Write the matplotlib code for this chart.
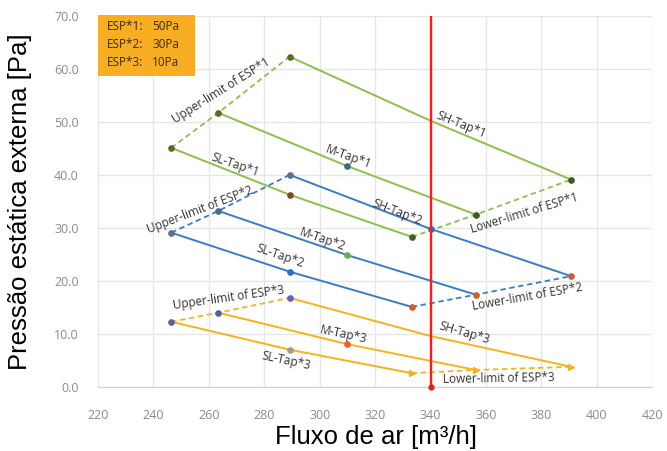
import numpy as np
import matplotlib.pyplot as plt
from matplotlib.patches import Rectangle

# airflow [m3/h] and external static pressure [Pa] per tap, for each ESP setting
sl1_x = [246.4, 289.4, 333.2]
sl1_y = [45.1, 36.2, 28.3]
m1_x = [263.4, 309.7, 356.3]
m1_y = [51.7, 41.7, 32.5]
sh1_x = [289.1, 340.0, 390.7]
sh1_y = [62.3, 50.2, 39.1]

sl2_x = [246.4, 289.4, 333.2]
sl2_y = [29.1, 21.7, 15.1]
m2_x = [263.4, 309.7, 356.3]
m2_y = [33.2, 24.9, 17.4]
sh2_x = [289.1, 340.0, 390.7]
sh2_y = [40.0, 29.8, 20.9]

sl3_x = [246.4, 289.4, 333.2]
sl3_y = [12.3, 7.0, 2.6]
m3_x = [263.4, 309.7, 356.3]
m3_y = [14.0, 8.1, 3.2]
sh3_x = [289.1, 340.0, 390.7]
sh3_y = [16.8, 9.6, 3.8]

esp_names = ["ESP*1:", "ESP*2:", "ESP*3:"]
esp_values = ["50Pa", "30Pa", "10Pa"]
limit_x = 340

green = "#8cc04a"
blue = "#3a7cc8"
orange = "#f7b21e"
red = "#ff1a1a"
label_color = "#333333"

fig = plt.figure(figsize=(6.67, 4.51), dpi=100)
ax = fig.add_axes([0.147, 0.142, 0.831, 0.823])


def draw_group(sl, m, sh, color, mk):
    (slx, sly), (mx, my), (shx, shy) = sl, m, sh
    ax.plot(slx, sly, color=color, lw=1.4, zorder=3)
    ax.plot(mx, my, color=color, lw=1.4, zorder=3)
    ax.plot(shx, shy, color=color, lw=1.4, zorder=3)
    # upper / lower limit dashed lines
    ax.plot([slx[0], mx[0], shx[0]], [sly[0], my[0], shy[0]],
            color=color, lw=1.3, ls=(0, (3, 2)), zorder=3)
    ax.plot([slx[-1], mx[-1], shx[-1]], [sly[-1], my[-1], shy[-1]],
            color=color, lw=1.3, ls=(0, (3, 2)), zorder=3)
    # markers
    for xs, ys, cols in [(slx, sly, mk[0]), (mx, my, mk[1]), (shx, shy, mk[2])]:
        for i in (0, 1, 2):
            if cols[i] is None:
                continue
            m = ">" if (color == orange and i == 2) else "o"
            ax.plot(xs[i], ys[i], marker=m, ms=3.8, color=cols[i],
                    mec=cols[i], zorder=4)


draw_group((sl1_x, sl1_y), (m1_x, m1_y), (sh1_x, sh1_y), green,
           [["#5e6b1f", "#7a4a20", "#4a5a2a"],
            ["#5e6b1f", "#2f6f8f", "#3e5a2a"],
            ["#5e6b1f", None, "#3e5a2a"]])
draw_group((sl2_x, sl2_y), (m2_x, m2_y), (sh2_x, sh2_y), blue,
           [["#5a7090", "#2a6fc0", "#d0602a"],
            ["#4a6a90", "#6ab04a", "#d0602a"],
            ["#5a7090", "#2a70c8", "#d0602a"]])
draw_group((sl3_x, sl3_y), (m3_x, m3_y), (sh3_x, sh3_y), orange,
           [["#5a60a0", "#a0a080", orange],
            ["#5a60a0", "#f06020", orange],
            ["#6a60b0", None, orange]])

ax.plot([limit_x, limit_x], [0, 70], color=red, lw=1.7, zorder=5)
ax.plot(limit_x, 0, "o", ms=3.5, color="#e02020", zorder=6, clip_on=False)


def line_label(text, x, y, rot):
    ax.text(x, y, text, rotation=rot, rotation_mode="anchor", ha="center",
            va="center", fontsize=8.5, color=label_color, family="Open Sans",
            zorder=6)


line_label("Upper-limit of ESP*1", 264.5, 55.8, 32)
line_label("SL-Tap*1", 269.5, 41.9, -19)
line_label("M-Tap*1", 310.4, 43.4, -20)
line_label("SH-Tap*1", 350.9, 49.4, -22)
line_label("SH-Tap*2", 328.1, 33.0, -21)
line_label("Lower-limit of ESP*1", 373.7, 32.8, 17)
line_label("Upper-limit of ESP*2", 256.9, 33.4, 21)
line_label("M-Tap*2", 301.0, 27.7, -19)
line_label("SL-Tap*2", 285.8, 24.7, -19)
line_label("Lower-limit of ESP*2", 374.8, 17.0, 10)
line_label("Upper-limit of ESP*3", 267.0, 16.9, 8)
line_label("M-Tap*3", 308.6, 9.8, -12)
line_label("SL-Tap*3", 288.0, 4.9, -12)
line_label("SH-Tap*3", 352.0, 10.2, -16)
line_label("Lower-limit of ESP*3", 364.7, 1.5, 1)

# ESP legend box
ax.add_patch(Rectangle((0, 0.838), 0.175, 0.165, transform=ax.transAxes,
                       fc="#f8ae22", ec="none", zorder=7, clip_on=False))
for i in range(3):
    yy = 0.970 - i * 0.0485
    ax.text(0.016, yy, esp_names[i], transform=ax.transAxes, ha="left",
            va="center", fontsize=8.5, color="#3a2a10", family="Open Sans",
            zorder=8)
    ax.text(0.098, yy, esp_values[i], transform=ax.transAxes, ha="left",
            va="center", fontsize=8.5, color="#3a2a10", family="Open Sans",
            zorder=8)

ax.set_xlim(220, 420)
ax.set_ylim(0, 70)
ax.set_xticks(np.arange(220, 421, 20))
ax.set_yticks(np.arange(0, 71, 10))
ax.set_yticklabels([f"{v:.1f}" for v in np.arange(0, 71, 10)])
ax.tick_params(length=0, labelsize=9, labelcolor="#8a8a8a")
ax.tick_params(axis="x", pad=16)
ax.tick_params(axis="y", pad=14)
for lab in ax.get_xticklabels() + ax.get_yticklabels():
    lab.set_family("Open Sans")
ax.grid(True, color="#e6e6e6", lw=1)
ax.set_axisbelow(True)
for side in ("top", "right", "left"):
    ax.spines[side].set_visible(False)
ax.spines["bottom"].set_color("#d0d0d0")

ax.set_xlabel("Fluxo de ar [m³/h]", fontsize=18.5, family="Liberation Sans")
ax.set_ylabel("Pressão estática externa [Pa]", fontsize=18.5,
              family="Liberation Sans")
ax.xaxis.set_label_coords(0.502, -0.102)
ax.yaxis.set_label_coords(-0.119, 0.5)

fig.savefig("out.png", dpi=100)
